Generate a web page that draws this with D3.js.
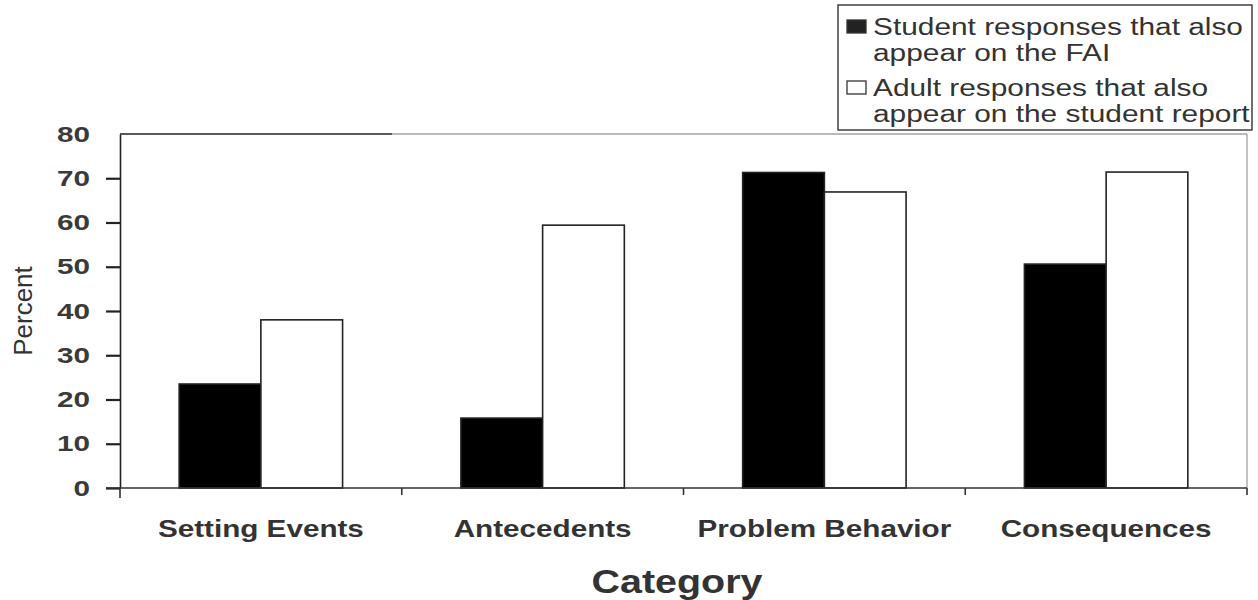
<!DOCTYPE html>
<html><head><meta charset="utf-8">
<script src="https://cdn.jsdelivr.net/npm/d3@7"></script>
<style>body{margin:0;background:#fff}svg{display:block}text{font-family:"Liberation Sans",Arial,sans-serif}</style>
</head><body>
<svg id="c" width="1258" height="600"></svg>
<script>
const categories = ["Setting Events", "Antecedents", "Problem Behavior", "Consequences"];
const seriesNames = ["Student responses that also appear on the FAI", "Adult responses that also appear on the student report"];
const studentValues = [23.5, 15.8, 71.3, 50.6];
const adultValues = [38.0, 59.4, 66.9, 71.4];
const yTicks = [0, 10, 20, 30, 40, 50, 60, 70, 80];
const legendLines = [["Student responses that also", "appear on the FAI"], ["Adult responses that also", "appear on the student report"]];
const seriesFill = ["#000", "#fff"];

const svg = d3.select("#c");
const L = 120, R = 1247, T = 134, B = 488;
const y = d3.scaleLinear().domain([0, 80]).range([B, T]);
const x0 = d3.scaleBand().domain(categories).range([L, R]).paddingInner(0.42).paddingOuter(0.21);
const x1 = d3.scaleBand().domain([0, 1]).range([0, x0.bandwidth()]);

// frame top and right
svg.append("line").attr("x1", L).attr("x2", 392).attr("y1", T).attr("y2", T).attr("stroke", "#222").attr("stroke-width", 1.5);
svg.append("line").attr("x1", 392).attr("x2", R).attr("y1", T).attr("y2", T).attr("stroke", "#777").attr("stroke-width", 1.2);
svg.append("line").attr("x1", R).attr("x2", R).attr("y1", T).attr("y2", B).attr("stroke", "#999").attr("stroke-width", 1.2);

// bars
const rows = categories.map((c, i) => ({c, v: [studentValues[i], adultValues[i]]}));
const g = svg.append("g");
rows.forEach(r => {
  r.v.forEach((v, s) => {
    g.append("rect")
      .attr("x", x0(r.c) + x1(s))
      .attr("y", y(v))
      .attr("width", x1.bandwidth())
      .attr("height", B - y(v))
      .attr("fill", seriesFill[s])
      .attr("stroke", "#222").attr("stroke-width", 1.6);
  });
});

// y axis
const ySx = 1.35;
const yAxis = d3.axisLeft(y).tickValues(yTicks).tickSize(14).tickPadding(16).tickSizeOuter(0);
const ya = svg.append("g").attr("transform", `translate(${L},0)`).call(yAxis);
ya.select(".domain").attr("stroke", "#222").attr("stroke-width", 1.6);
ya.selectAll(".tick line").attr("stroke", "#222").attr("stroke-width", 2.2);
ya.selectAll(".tick line").filter(d => d === 80).attr("x2", 0);
ya.selectAll("text").attr("font-size", 22).attr("font-weight", "bold").attr("fill", "#3a3a3a")
  .attr("font-family", "Liberation Sans, Arial, sans-serif")
  .attr("x", -30 / ySx).attr("transform", `scale(${ySx},1)`);

// x axis
const xa = svg.append("g").attr("transform", `translate(0,${B})`);
xa.append("line").attr("x1", L - 14).attr("x2", R).attr("y1", 0).attr("y2", 0).attr("stroke", "#333").attr("stroke-width", 1.6);
const bounds = categories.map(c => x0(c) - x0.step() * 0.21).concat([R]);
xa.selectAll(".xt").data(bounds).enter().append("line")
  .attr("x1", d => d).attr("x2", d => d).attr("y1", 0).attr("y2", (d, i) => i === 0 ? 10 : 7)
  .attr("stroke", "#333").attr("stroke-width", 1.6);
xa.selectAll(".xl").data(categories).enter().append("text")
  .attr("transform", d => `translate(${x0(d) + x0.bandwidth() / 2},49) scale(1.29,1)`)
  .attr("text-anchor", "middle")
  .attr("font-size", 23).attr("font-weight", "bold").attr("fill", "#333")
  .text(d => d);

// axis titles
svg.append("text").attr("transform", "translate(32,311) rotate(-90)")
  .attr("text-anchor", "middle").attr("font-size", 26).attr("fill", "#333").text("Percent");
svg.append("text").attr("transform", "translate(677,593) scale(1.16,1)").attr("text-anchor", "middle")
  .attr("font-size", 34).attr("font-weight", "bold").attr("fill", "#333").text("Category");

// legend
const lg = svg.append("g");
lg.append("rect").attr("x", 838).attr("y", 5).attr("width", 414).attr("height", 125)
  .attr("fill", "#fff").attr("stroke", "#333").attr("stroke-width", 1.4);
const lineY = [[35, 61], [96, 122]];
legendLines.forEach((lines, s) => {
  lg.append("rect").attr("x", 847).attr("y", lineY[s][0] - 15).attr("width", 19).attr("height", 13)
    .attr("fill", seriesFill[s] === "#000" ? "#222" : "#fff").attr("stroke", "#333").attr("stroke-width", 1.3);
  lines.forEach((t, k) => {
    lg.append("text").attr("transform", `translate(873,${lineY[s][k]}) scale(1.27,1)`)
      .attr("font-size", 23.5).attr("fill", "#333").text(t);
  });
});
</script>
</body></html>
